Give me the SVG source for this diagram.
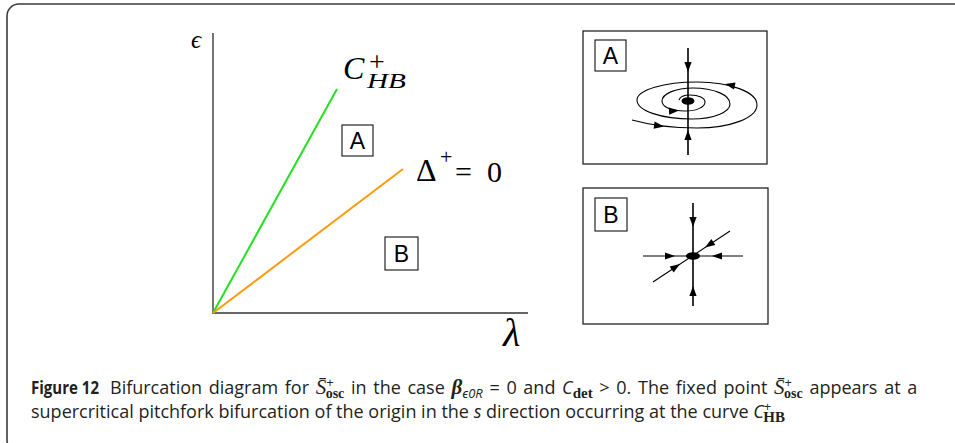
<svg xmlns="http://www.w3.org/2000/svg" xmlns:xlink="http://www.w3.org/1999/xlink" width="955" height="443" viewBox="0 0 955 443">
<style>
  .frame{fill:none;stroke:#3a3a3a;stroke-width:1.6}
  .axis{stroke:#666;stroke-width:1.8;fill:none}
  .inset{fill:#fff;stroke:#111;stroke-width:1.2}
  .lbox{fill:#fff;stroke:#111;stroke-width:1.1}
  .lbl{font-family:"Liberation Sans",Arial,sans-serif;font-size:23px;fill:#000;text-anchor:middle}
  .math{font-family:"Liberation Serif","DejaVu Serif",serif;fill:#000}
  .traj{fill:none;stroke:#000;stroke-width:1.1}
  .axl{fill:none;stroke:#000;stroke-width:1.6}
  .cap{font-family:"Open Sans","Noto Sans",sans-serif;font-size:18px;fill:#231f20}
  .just{word-spacing:2px}
  .capm{font-family:"Liberation Serif","DejaVu Serif",serif}
</style>
<defs>
  <path id="ah" d="M0,0 L-10,-3.6 L-10,3.6 Z" fill="#000"/>
</defs>

<rect class="frame" x="7" y="4" width="975" height="448" rx="12"/>

<g id="plot">
  <path class="axis" d="M213,33 L213,313 L528,313"/>
  <text class="math" x="191" y="48" font-size="25" font-style="italic">ϵ</text>
  <text class="math" x="503" y="346" font-size="40" font-style="italic">λ</text>
</g>

<g id="connectors">
  <line id="chb" x1="213" y1="313" x2="337" y2="89" stroke="#22e022" stroke-width="2"/>
  <line id="delta" x1="213" y1="313" x2="403" y2="169" stroke="#ff9a0a" stroke-width="2"/>
</g>

<g id="label-chb">
  <text class="math" x="343" y="79" font-size="32" font-style="italic">C</text>
  <text class="math" x="369" y="71" font-size="28">+</text>
  <text class="math" x="367" y="88" font-size="21" font-style="italic" textLength="39" lengthAdjust="spacingAndGlyphs">HB</text>
</g>

<g id="label-delta">
  <text class="math" x="416" y="181" font-size="32">Δ</text>
  <text class="math" x="440" y="164" font-size="22">+</text>
  <text class="math" x="455" y="182" font-size="30" textLength="47" lengthAdjust="spacing">= 0</text>
</g>

<g id="region-A">
  <rect class="lbox" x="342" y="125" width="31" height="31"/>
  <text class="lbl" x="357.5" y="149">A</text>
</g>

<g id="region-B">
  <rect class="lbox" x="385" y="237" width="33" height="33"/>
  <text class="lbl" x="401.5" y="262">B</text>
</g>

<g id="inset-A">
  <rect class="inset" x="583" y="31" width="184" height="133"/>
  <rect class="lbox" x="595" y="40" width="31" height="31"/>
  <text class="lbl" x="610.5" y="64">A</text>
  <line class="axl" x1="688" y1="48" x2="688" y2="155"/>
  <path class="traj" d="M632,120 C650,125 670,128 697,128 C730,128 757,118 757,105 C757,92 730,82 697,82 C664,82 637,90 637,100 C637,111 662,119 692,119 C714,119 730,112 730,104 C730,95 714,88 693,88 C675,88 662,94 662,101 C662,107 671,111 685,111 C697,111 705,107 705,102 C705,98 699,95 690,95 C684,95 680,97 679,100"/>
  <ellipse cx="688" cy="101" rx="6.5" ry="3.8" fill="#000"/>
  <use xlink:href="#ah" transform="translate(688,72) rotate(90)"/>
  <use xlink:href="#ah" transform="translate(688,130) rotate(-90)"/>
  <use xlink:href="#ah" transform="translate(664,126.5) rotate(8)"/>
  <use xlink:href="#ah" transform="translate(725,84) rotate(-168)"/>
  <use xlink:href="#ah" transform="translate(679,110.6) rotate(-3)"/>
</g>

<g id="inset-B">
  <rect class="inset" x="583" y="188" width="185" height="136"/>
  <rect class="lbox" x="595" y="198" width="32" height="33"/>
  <text class="lbl" x="611" y="223">B</text>
  <line class="axl" x1="693" y1="203" x2="693" y2="306"/>
  <line class="traj" x1="643" y1="256" x2="743" y2="256"/>
  <line class="traj" x1="653" y1="282" x2="730" y2="231"/>
  <ellipse cx="693" cy="256" rx="7" ry="3.8" fill="#000"/>
  <use xlink:href="#ah" transform="translate(693,227) rotate(90)"/>
  <use xlink:href="#ah" transform="translate(693,286) rotate(-90)"/>
  <use xlink:href="#ah" transform="translate(675,256)"/>
  <use xlink:href="#ah" transform="translate(712,256) rotate(180)"/>
  <use xlink:href="#ah" transform="translate(680,264) rotate(-33.5)"/>
  <use xlink:href="#ah" transform="translate(705,247.5) rotate(146.5)"/>
</g>

<g id="caption">
  <text class="cap" x="31" y="394"><tspan font-weight="bold" font-size="17" textLength="68" lengthAdjust="spacingAndGlyphs">Figure 12</tspan><tspan class="just" dx="11">Bifurcation diagram for </tspan><tspan class="capm" font-style="italic" font-size="21">S̄</tspan><tspan font-size="13" dy="-7">+</tspan><tspan class="capm" font-weight="bold" font-size="14" dx="-8" dy="11">osc</tspan><tspan class="just" dy="-4"> in the case </tspan><tspan class="capm" font-style="italic" font-weight="bold" font-size="21">β</tspan><tspan font-style="italic" font-size="13" dy="4">ϵ0R</tspan><tspan class="just" dy="-4"> = 0 and </tspan><tspan font-style="italic">C</tspan><tspan class="capm" font-weight="bold" font-size="15" dy="4">det</tspan><tspan class="just" dy="-4"> &gt; 0. The fixed point </tspan><tspan class="capm" font-style="italic" font-size="21">S̄</tspan><tspan font-size="13" dy="-7">+</tspan><tspan class="capm" font-weight="bold" font-size="14" dx="-8" dy="11">osc</tspan><tspan class="just" dy="-4"> appears at a</tspan></text>
  <text class="cap" x="31" y="418">supercritical pitchfork bifurcation of the origin in the <tspan font-style="italic">s</tspan> direction occurring at the curve <tspan font-style="italic">C</tspan><tspan font-size="13" dy="-7">+</tspan><tspan class="capm" font-weight="bold" font-size="15" dx="-8" dy="11">HB</tspan></text>
</g>
</svg>
